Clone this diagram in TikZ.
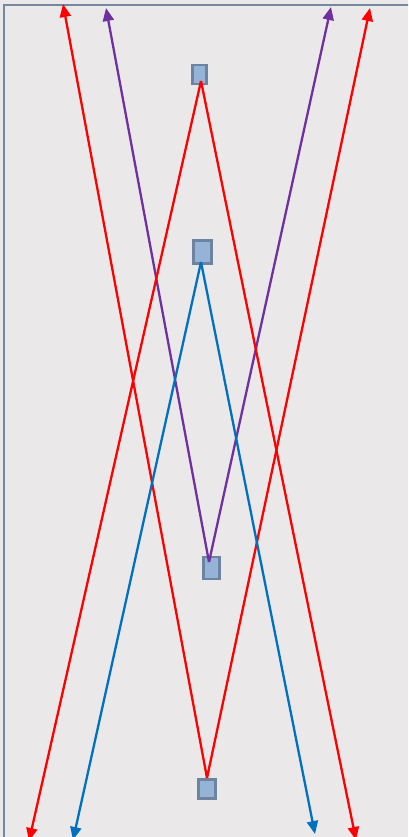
\documentclass[tikz,border=0pt]{standalone}
\usetikzlibrary{arrows.meta}
\definecolor{bgc}{HTML}{EBE8EA}
\definecolor{framec}{HTML}{7489A0}
\definecolor{sqfill}{HTML}{95B3D7}
\definecolor{sqdraw}{HTML}{6C849F}
\definecolor{redc}{HTML}{FF0000}
\definecolor{purc}{HTML}{7030A0}
\definecolor{bluc}{HTML}{0070C0}
\tikzset{
  sq/.style={draw=sqdraw, fill=sqfill, line width=2.4pt, inner sep=0pt, rectangle},
  conn/.style={line width=2.3pt, -{Triangle[length=13pt,width=11pt]}},
}
\begin{document}
\begin{tikzpicture}[x=1pt,y=-1pt]
\useasboundingbox (0,0) rectangle (408,837);
\clip (0,0) rectangle (408,837);
\fill[bgc] (0,0) rectangle (408,837);
\draw[framec, line width=2.5pt] (4,5) rectangle (430,860);
% squares
\node[sq, minimum width=14pt, minimum height=19pt] (s1) at (199.5,74.5) {};
\node[sq, minimum width=18pt, minimum height=23pt] (s2) at (202.5,252) {};
\node[sq, minimum width=16pt, minimum height=22pt] (s3) at (211.5,568) {};
\node[sq, minimum width=17pt, minimum height=19pt] (s4) at (207,789) {};
% apex points
\coordinate (a1) at (201,81);
\coordinate (a2) at (201,262);
\coordinate (a3) at (209,562);
\coordinate (a4) at (207,778);
% arrow ends
\coordinate (t1) at (63,4);
\coordinate (t2) at (106,8);
\coordinate (t3) at (331,7);
\coordinate (t4) at (370,8);
\coordinate (b1) at (29,841);
\coordinate (b2) at (73,840);
\coordinate (b3) at (315,834);
\coordinate (b4) at (356,840);
% connectors
\draw[conn, redc] (a4) -- (t1);
\draw[conn, purc] (a3) -- (t2);
\draw[conn, purc] (a3) -- (t3);
\draw[conn, redc] (a4) -- (t4);
\draw[conn, redc] (a1) -- (b1);
\draw[conn, bluc] (a2) -- (b2);
\draw[conn, bluc] (a2) -- (b3);
\draw[conn, redc] (a1) -- (b4);
\end{tikzpicture}
\end{document}
